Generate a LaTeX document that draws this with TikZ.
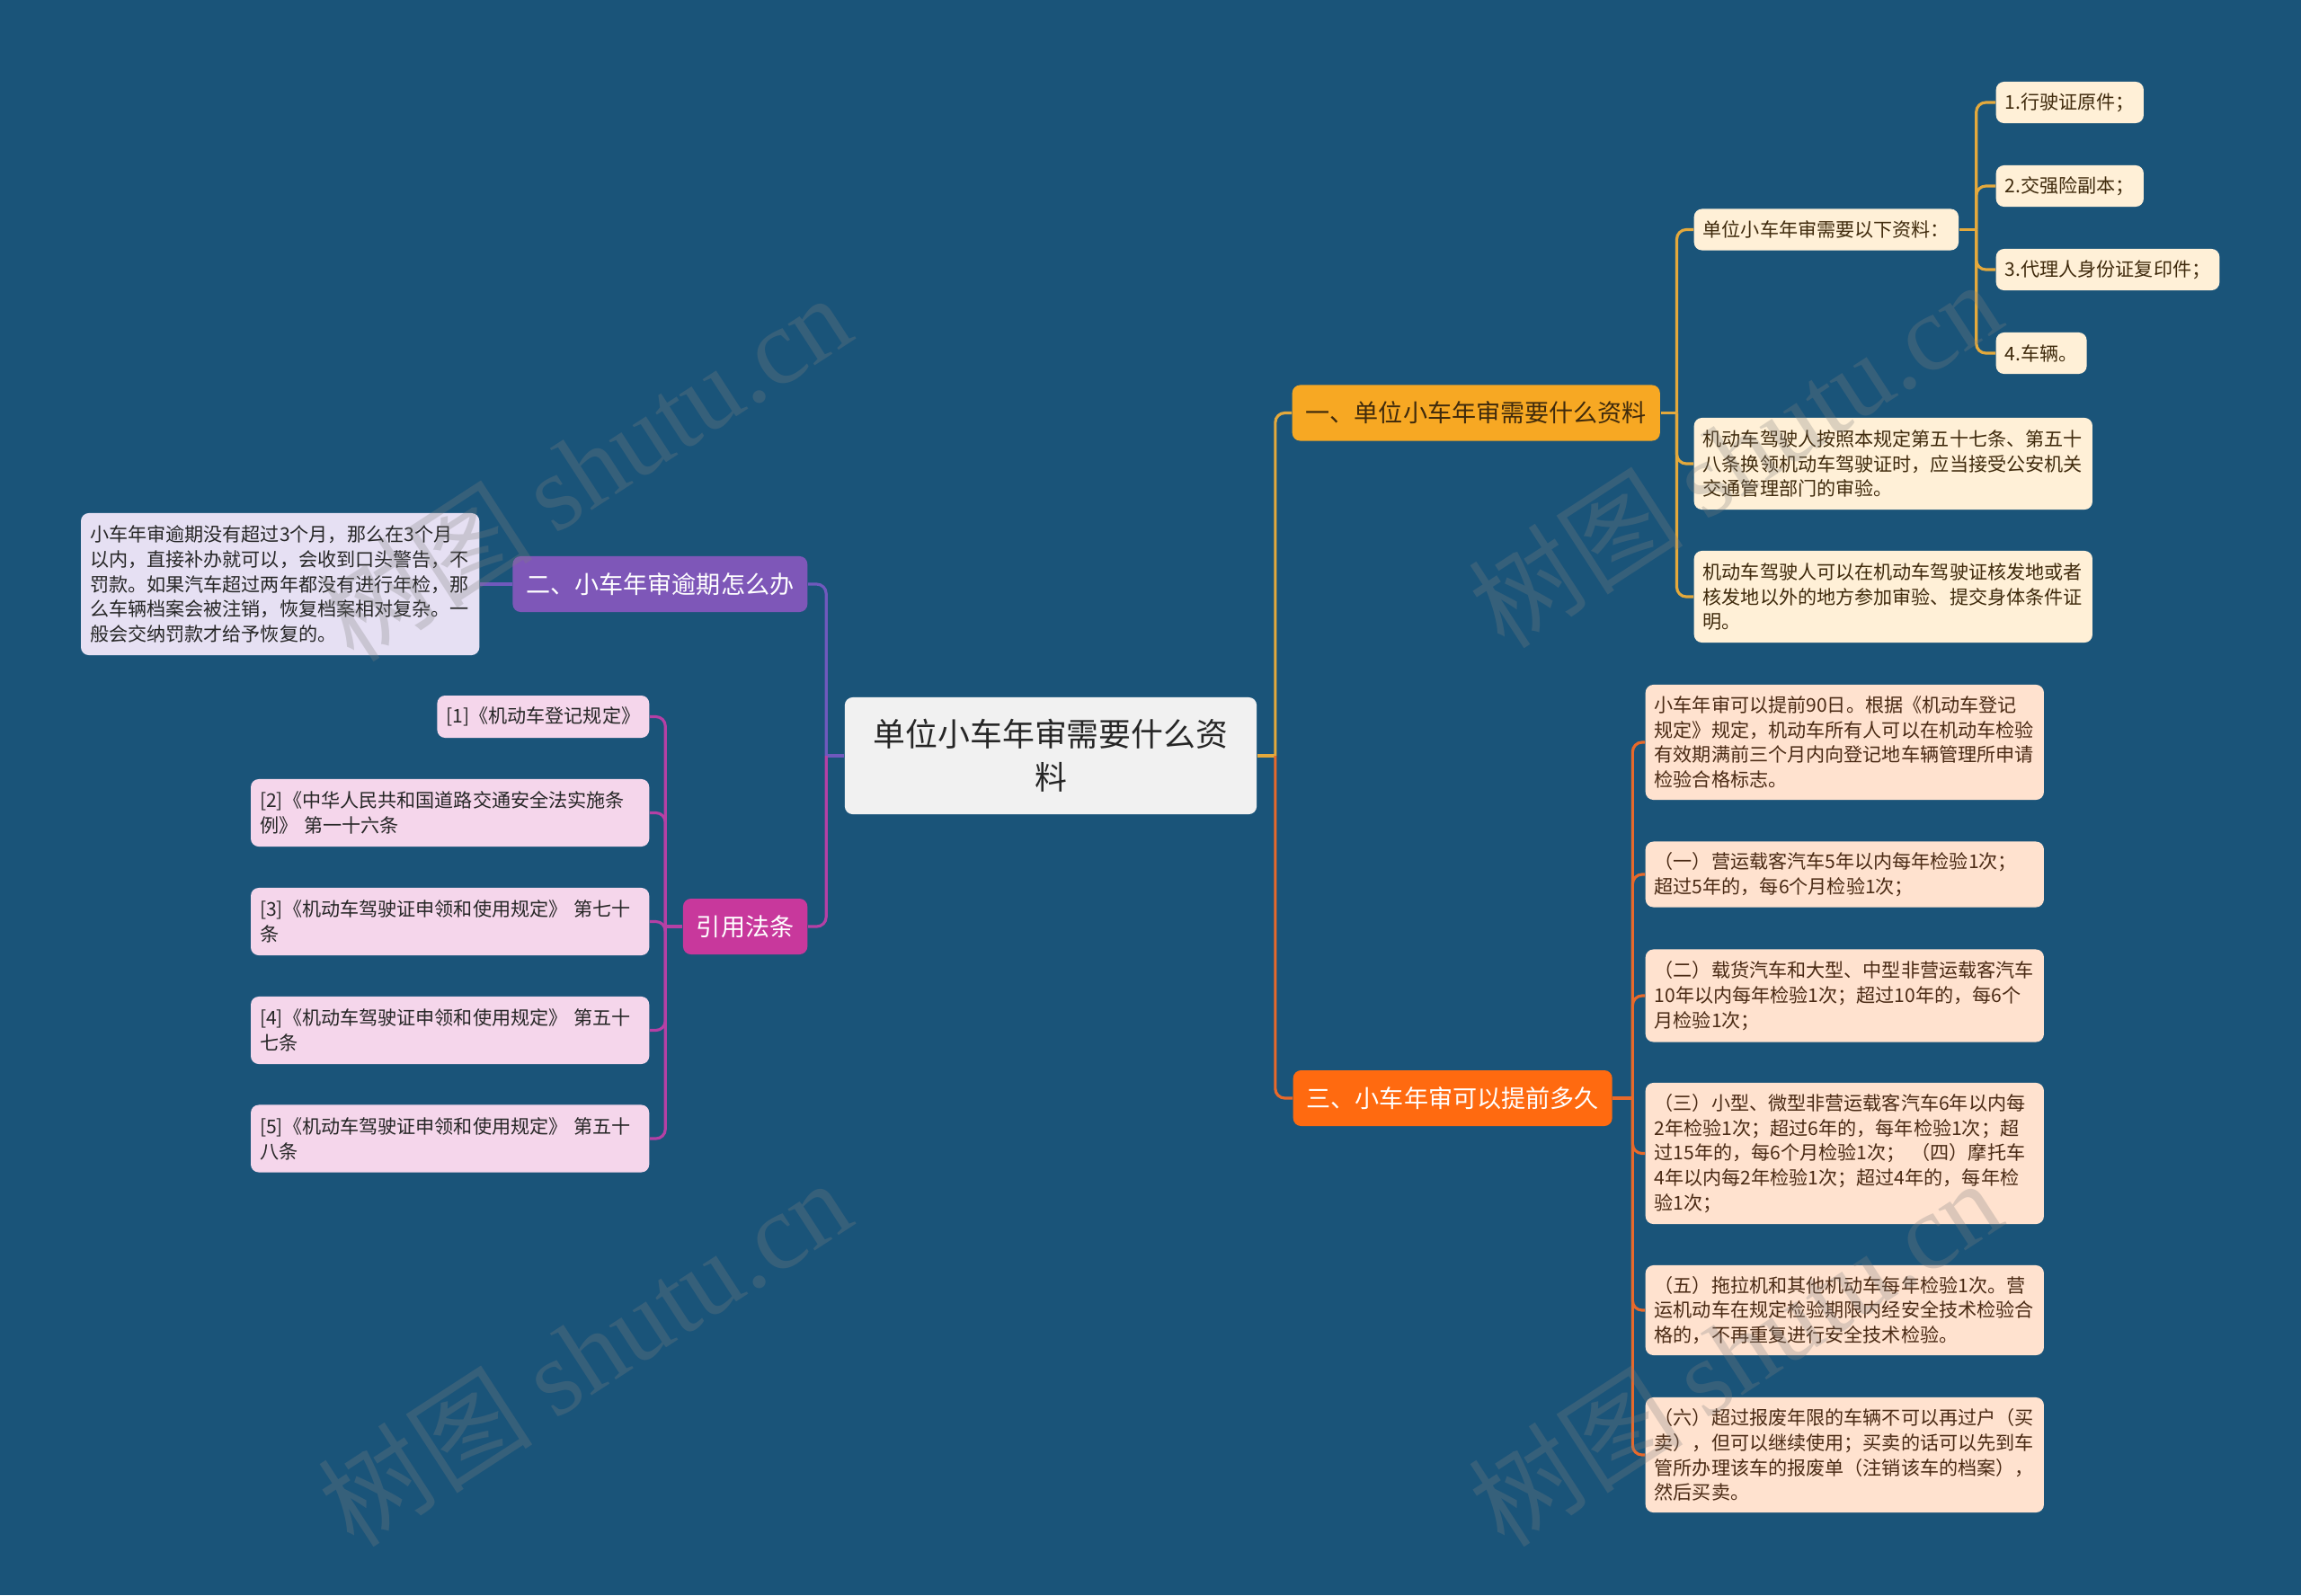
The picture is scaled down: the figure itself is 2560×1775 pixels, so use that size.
\documentclass[tikz,border=0pt]{standalone}
\usepackage{fontspec}
\setmainfont{Noto Sans CJK SC}
\newfontfamily\wmserif{Liberation Serif}

\definecolor{bgblue}{HTML}{1A5479}
\definecolor{rootgray}{HTML}{F1F1F1}
\definecolor{rootink}{HTML}{262626}
\definecolor{mainY}{HTML}{F7A823}
\definecolor{lineY}{HTML}{E4A93C}
\definecolor{leafY}{HTML}{FFF0D7}
\definecolor{inkY}{HTML}{3F2A0C}
\definecolor{mainO}{HTML}{FF6A10}
\definecolor{lineO}{HTML}{E8692A}
\definecolor{leafO}{HTML}{FFE2CF}
\definecolor{inkO}{HTML}{4A2A14}
\definecolor{mainP}{HTML}{7E57B8}
\definecolor{lineP}{HTML}{7059BD}
\definecolor{leafP}{HTML}{E6E0F3}
\definecolor{mainM}{HTML}{C8389C}
\definecolor{lineM}{HTML}{B540A5}
\definecolor{leafM}{HTML}{F5D6EB}

\tikzset{
  box/.style={rounded corners=2.5pt, inner xsep=0.1cm, inner ysep=0pt, anchor=west,
    font=\fontsize{6}{7.9}\selectfont},
  wide/.style={text width=4.23cm, align=left},
  topic/.style={rounded corners=2.5pt, inner xsep=0.15cm, inner ysep=0pt,
    minimum height=0.62cm, font=\fontsize{7.7}{9.5}\selectfont},
  link/.style={line width=0.9pt},
  elbow/.style={link, rounded corners=3pt},
  wmark/.style={rotate=33, text=gray, text opacity=0.28, font=\fontsize{34}{38}\selectfont}
}

\begin{document}
\begin{tikzpicture}[x=0.01cm, y=-0.01cm]
  \fill[bgblue] (0,0) rectangle (2560,1775);
  \useasboundingbox (0,0) rectangle (2560,1775);

  % root
  \node[fill=rootgray, text=rootink, rounded corners=2.5pt, minimum width=4.58cm,
    minimum height=1.3cm, align=center, font=\fontsize{10.2}{13.7}\selectfont]
    (root) at (1169,841) {单位小车年审需要什么资\\料};

  % main topics
  \node[topic, fill=mainY, text=inkY, anchor=west] (b1) at (1437,459.5) {一、单位小车年审需要什么资料};
  \node[topic, fill=mainO, text=white, anchor=west] (b3) at (1438,1222) {三、小车年审可以提前多久};
  \node[topic, fill=mainP, text=white, anchor=east] (b2) at (899,650) {二、小车年审逾期怎么办};
  \node[topic, fill=mainM, text=white, anchor=east] (b4) at (899,1031) {引用法条};

  % topic 1
  \node[box, fill=leafY, text=inkY, minimum height=0.46cm] (g1) at (1884,255.5) {单位小车年审需要以下资料：};
  \node[box, wide, fill=leafY, text=inkY, minimum height=1.02cm] (g2) at (1884,516)
    {机动车驾驶人按照本规定第五十七条、第五十\\八条换领机动车驾驶证时，应当接受公安机关\\交通管理部门的审验。};
  \node[box, wide, fill=leafY, text=inkY, minimum height=1.02cm] (g3) at (1884,664)
    {机动车驾驶人可以在机动车驾驶证核发地或者\\核发地以外的地方参加审验、提交身体条件证\\明。};
  \node[box, fill=leafY, text=inkY, minimum height=0.46cm] (m1) at (2220,114) {1.行驶证原件；};
  \node[box, fill=leafY, text=inkY, minimum height=0.46cm] (m2) at (2220,207) {2.交强险副本；};
  \node[box, fill=leafY, text=inkY, minimum height=0.46cm] (m3) at (2220,300) {3.代理人身份证复印件；};
  \node[box, fill=leafY, text=inkY, minimum height=0.46cm] (m4) at (2220,393) {4.车辆。};

  % topic 3
  \node[box, wide, fill=leafO, text=inkO, minimum height=1.28cm] (t1) at (1830,826)
    {小车年审可以提前90日。根据《机动车登记\\规定》规定，机动车所有人可以在机动车检验\\有效期满前三个月内向登记地车辆管理所申请\\检验合格标志。};
  \node[box, wide, fill=leafO, text=inkO, minimum height=0.73cm] (t2) at (1830,973)
    {（一）营运载客汽车5年以内每年检验1次；\\超过5年的，每6个月检验1次；};
  \node[box, wide, fill=leafO, text=inkO, minimum height=1.03cm] (t3) at (1830,1108)
    {（二）载货汽车和大型、中型非营运载客汽车\\10年以内每年检验1次；超过10年的，每6个\\月检验1次；};
  \node[box, wide, fill=leafO, text=inkO, minimum height=1.57cm] (t4) at (1830,1283.5)
    {（三）小型、微型非营运载客汽车6年以内每\\2年检验1次；超过6年的，每年检验1次；超\\过15年的，每6个月检验1次；~（四）摩托车\\4年以内每2年检验1次；超过4年的，每年检\\验1次；};
  \node[box, wide, fill=leafO, text=inkO, minimum height=1.0cm] (t5) at (1830,1458)
    {（五）拖拉机和其他机动车每年检验1次。营\\运机动车在规定检验期限内经安全技术检验合\\格的，不再重复进行安全技术检验。};
  \node[box, wide, fill=leafO, text=inkO, minimum height=1.28cm] (t6) at (1830,1619)
    {（六）超过报废年限的车辆不可以再过户（买\\卖），但可以继续使用；买卖的话可以先到车\\管所办理该车的报废单（注销该车的档案），\\然后买卖。};

  % topic 2
  \node[box, wide, fill=leafP, text=rootink, minimum height=1.58cm, anchor=east] (p1) at (534,650)
    {小车年审逾期没有超过3个月，那么在3个月\\以内，直接补办就可以，会收到口头警告，不\\罚款。如果汽车超过两年都没有进行年检，那\\么车辆档案会被注销，恢复档案相对复杂。一\\般会交纳罚款才给予恢复的。};

  % references
  \node[box, fill=leafM, text=rootink, minimum height=0.47cm, anchor=east] (r1) at (723,797.5) {[1]《机动车登记规定》};
  \node[box, wide, fill=leafM, text=rootink, minimum height=0.75cm, anchor=east] (r2) at (723,904.5)
    {[2]《中华人民共和国道路交通安全法实施条\\例》~第一十六条};
  \node[box, wide, fill=leafM, text=rootink, minimum height=0.75cm, anchor=east] (r3) at (723,1025.5)
    {[3]《机动车驾驶证申领和使用规定》~第七十\\条};
  \node[box, wide, fill=leafM, text=rootink, minimum height=0.75cm, anchor=east] (r4) at (723,1146.5)
    {[4]《机动车驾驶证申领和使用规定》~第五十\\七条};
  \node[box, wide, fill=leafM, text=rootink, minimum height=0.75cm, anchor=east] (r5) at (723,1267)
    {[5]《机动车驾驶证申领和使用规定》~第五十\\八条};

  % connectors
  \draw[link, lineY] (root.east) -- ++(20,0) coordinate (rR);
  \draw[elbow, lineY] (rR) |- (b1.west);
  \draw[elbow, lineO] (rR) |- (b3.west);
  \draw[link, lineP] (root.west) -- ++(-20,0) coordinate (rL);
  \draw[elbow, lineP] (rL) |- (b2.east);
  \draw[elbow, lineM] (rL) |- (b4.east);

  \draw[link, lineY] (b1.east) -- ++(18,0) coordinate (s1);
  \foreach \c in {g1,g2,g3} \draw[elbow, lineY] (s1) |- (\c.west);
  \draw[link, lineY] (g1.east) -- ++(19,0) coordinate (s2);
  \foreach \c in {m1,m2,m3,m4} \draw[elbow, lineY] (s2) |- (\c.west);

  \draw[link, lineO] (b3.east) -- ++(22,0) coordinate (s3);
  \foreach \c in {t1,t2,t3,t4,t5,t6} \draw[elbow, lineO] (s3) |- (\c.west);

  \draw[link, lineP] (b2.west) -- (p1.east);

  \draw[link, lineM] (b4.west) -- ++(-19,0) coordinate (s4);
  \foreach \c in {r1,r2,r3,r4,r5} \draw[elbow, lineM] (s4) |- (\c.east);

  % watermarks
  \foreach \wx/\wy/\k in {650/520/1, 650/1505/2, 1930/505/3, 1930/1505/4}
    \node[wmark] (wm\k) at (\wx,\wy) {树图 {\wmserif shutu.cn}};
\end{tikzpicture}
\end{document}
